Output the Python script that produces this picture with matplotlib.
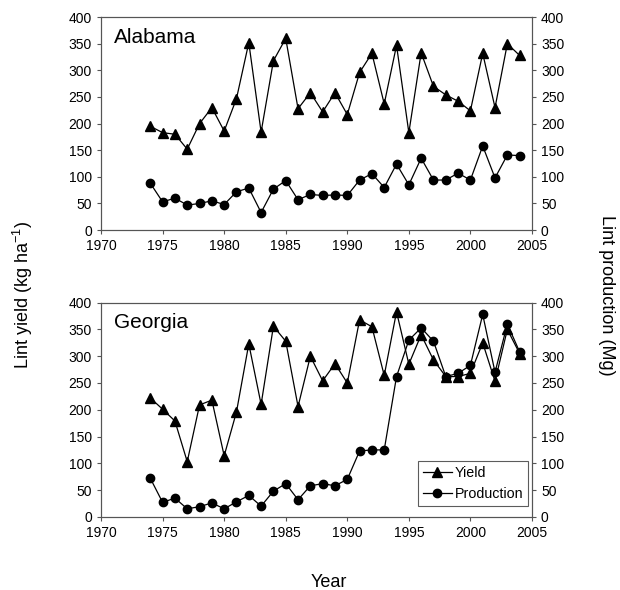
import matplotlib.pyplot as plt
import numpy as np

years = list(range(1974, 2005))

al_yield = [195, 183, 180, 152, 200, 230, 186, 247, 352, 184, 318, 360, 228, 258, 222, 258,
            217, 296, 332, 237, 347, 183, 333, 270, 254, 242, 224, 332, 230, 350, 328]
al_prod = [88, 53, 60, 47, 50, 55, 48, 72, 79, 33, 77, 93, 57, 67, 65, 66,
           65, 94, 106, 80, 124, 85, 135, 94, 94, 107, 94, 158, 98, 141, 140]

ga_yield = [222, 201, 179, 103, 209, 218, 114, 196, 323, 210, 356, 328, 206, 300, 254, 286,
            250, 368, 355, 264, 383, 285, 340, 293, 262, 262, 268, 325, 253, 350, 305]
ga_prod = [72, 27, 35, 15, 19, 26, 15, 28, 40, 20, 48, 62, 32, 58, 62, 58,
           70, 123, 125, 125, 262, 330, 353, 328, 262, 268, 283, 378, 270, 360, 308]

states = ["Alabama", "Georgia"]

plt.rcParams['font.family'] = ['Liberation Sans', 'DejaVu Sans']
plt.rcParams['mathtext.default'] = 'regular'

fig = plt.figure(figsize=(6.2, 5.9), dpi=100)
ax1 = fig.add_axes([0.163, 0.610, 0.695, 0.361])
ax2 = fig.add_axes([0.163, 0.124, 0.695, 0.363])

for ax, name, yl, pr in [(ax1, states[0], al_yield, al_prod), (ax2, states[1], ga_yield, ga_prod)]:
    ax.plot(years, yl, color='black', lw=0.9, marker='^', ms=7, label="Yield")
    ax.plot(years, pr, color='black', lw=0.9, marker='o', ms=6, label="Production")
    ax.set_xlim(1970, 2005)
    ax.set_ylim(0, 400)
    ax.set_xticks(np.arange(1970, 2006, 5))
    ax.set_yticks(np.arange(0, 401, 50))
    ax.tick_params(labelsize=10, length=3, color='#555555')
    for s in ax.spines.values():
        s.set_color('#555555')
        s.set_linewidth(0.8)
    ax.text(0.03, 0.95, name, transform=ax.transAxes, fontsize=15, va='top', ha='left')
    axr = ax.twinx()
    axr.set_ylim(0, 400)
    axr.set_yticks(np.arange(0, 401, 50))
    axr.tick_params(labelsize=10, length=3, color='#555555')
    for s in axr.spines.values():
        s.set_color('#555555')
        s.set_linewidth(0.8)

leg = ax2.legend(loc='lower right', bbox_to_anchor=(0.991, 0.051), borderaxespad=0,
                 fontsize=10.3, fancybox=False, edgecolor='#333333', handlelength=2.0,
                 borderpad=0.35, labelspacing=0.45, handletextpad=0.2)
leg.get_frame().set_linewidth(0.8)

fig.text(0.037, 0.5, "Lint yield (kg ha$^{-1}$)", rotation=90, fontsize=13, va='center', ha='center')
fig.text(0.978, 0.5, "Lint production (Mg)", rotation=270, fontsize=13, va='center', ha='center')
fig.text(0.53, 0.012, "Year", fontsize=13, ha='center', va='center')

fig.savefig("out.png", dpi=100)
